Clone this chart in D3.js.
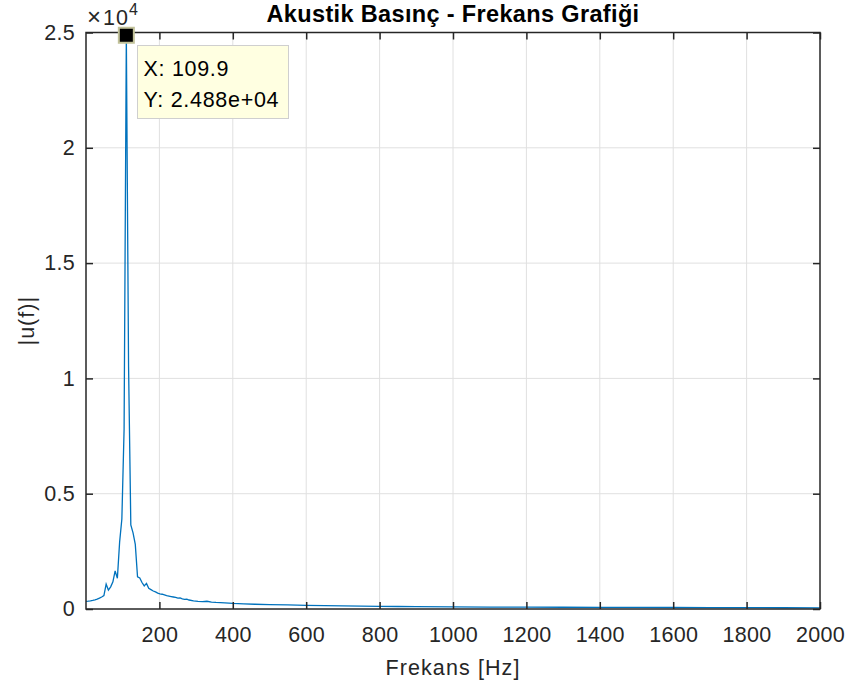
<!DOCTYPE html>
<html>
<head>
<meta charset="utf-8">
<script src="https://cdn.jsdelivr.net/npm/d3@7"></script>
<style>
  body { margin: 0; background: #fff; }
  text { font-family: "Liberation Sans", Arial, Helvetica, sans-serif; fill: #262626; }
</style>
</head>
<body>
<div id="container"></div>
<script>
/* CONSTANTS AND GLOBALS */
const width = 851,
  height = 689,
  margin = { top: 32.5, bottom: 80, left: 86, right: 31 };

/* DATA */
// frequency bins [Hz]
const freqs = [0, 6.1, 12.2, 18.3, 24.4, 30.5, 36.6, 42.7, 48.8, 54.9, 61.0, 67.2, 73.3, 79.4, 85.5,
  91.6, 97.7, 103.8, 109.9, 116.0, 122.1, 128.2, 134.3, 140.4, 146.5, 152.6, 158.7, 164.8, 170.9,
  177.0, 183.2, 189.3, 195.4, 201.5, 207.6, 213.7, 219.8, 225.9, 232.0, 238.1, 244.2, 250.3, 256.4,
  262.5, 268.6, 274.7, 280.8, 293.0, 305.2, 317.4, 329.6, 341.9, 354.1, 366.3, 378.5, 400, 430, 460,
  500, 550, 600, 650, 700, 750, 800, 850, 900, 1000, 1100, 1200, 1300, 1400, 1500, 1600, 1700,
  1800, 1900, 2000]
// |u(f)|
const amps = [330, 340, 355, 375, 400, 430, 470, 520, 580, 1080, 820, 960, 1180, 1650, 1330,
  2900, 3900, 7800, 24880, 10500, 3650, 3300, 2800, 1400, 1350, 1150, 1000, 1110, 900,
  840, 780, 740, 690, 660, 640, 610, 580, 560, 540, 520, 500, 470, 480,
  440, 420, 430, 390, 355, 330, 320, 335, 300, 285, 275, 262, 240, 220, 205,
  190, 175, 160, 148, 138, 128, 118, 108, 102, 92, 85, 80, 75, 72, 68, 64, 60,
  57, 54, 50]

const xTicks = [200, 400, 600, 800, 1000, 1200, 1400, 1600, 1800, 2000]
const yTicks = [0, 5000, 10000, 15000, 20000, 25000]
const tip = { x: 109.9, y: 24880 }

const data = freqs.map((f, i) => ({ f: f, a: amps[i] }))

/* SCALES */
const xScale = d3.scaleLinear()
  .domain([0, 2000])
  .range([margin.left, width - margin.right])

const yScale = d3.scaleLinear()
  .domain([0, 25000])
  .range([height - margin.bottom, margin.top])

/* HTML ELEMENTS */
const svg = d3.select("#container")
  .append("svg")
  .attr("width", width)
  .attr("height", height)
  .style("background-color", "#fff")

// grid
svg.append("g")
  .selectAll("line")
  .data(xTicks.slice(0, -1))
  .join("line")
  .attr("x1", d => xScale(d)).attr("x2", d => xScale(d))
  .attr("y1", margin.top).attr("y2", height - margin.bottom)
  .attr("stroke", "#e0e0e0")
svg.append("g")
  .selectAll("line")
  .data(yTicks.slice(1, -1))
  .join("line")
  .attr("x1", margin.left).attr("x2", width - margin.right)
  .attr("y1", d => yScale(d)).attr("y2", d => yScale(d))
  .attr("stroke", "#e0e0e0")

// line
const line = d3.line()
  .x(d => xScale(d.f))
  .y(d => yScale(d.a))

svg.append("path")
  .datum(data)
  .attr("d", line)
  .attr("fill", "none")
  .attr("stroke", "#0072BD")
  .attr("stroke-width", 1.3)

// axes
const fontSize = "21.5px"
const xAxis = svg.append("g")
  .attr("transform", `translate(0,${height - margin.bottom})`)
  .call(d3.axisBottom(xScale).tickValues(xTicks).tickSizeInner(-7).tickSizeOuter(0).tickPadding(18)
    .tickFormat(d3.format("d")))
const yAxis = svg.append("g")
  .attr("transform", `translate(${margin.left},0)`)
  .call(d3.axisLeft(yScale).tickValues(yTicks).tickSizeInner(-7).tickSizeOuter(0).tickPadding(11)
    .tickFormat(d => d / 1e4))
const xTop = svg.append("g")
  .attr("transform", `translate(0,${margin.top})`)
  .call(d3.axisTop(xScale).tickValues(xTicks).tickSizeInner(-7).tickSizeOuter(0).tickFormat(""))
const yRight = svg.append("g")
  .attr("transform", `translate(${width - margin.right},0)`)
  .call(d3.axisRight(yScale).tickValues(yTicks).tickSizeInner(-7).tickSizeOuter(0).tickFormat(""))

;[xAxis, yAxis, xTop, yRight].forEach(g => {
  g.select(".domain").remove()
  g.selectAll(".tick line").attr("stroke", "#262626").attr("stroke-width", 1.5)
  g.selectAll(".tick text").attr("font-size", fontSize).attr("fill", "#262626")
    .attr("letter-spacing", "0.3px")
    .style("font-family", "'Liberation Sans', Arial, sans-serif")
})

// box
svg.append("rect")
  .attr("x", margin.left)
  .attr("y", margin.top)
  .attr("width", width - margin.left - margin.right)
  .attr("height", height - margin.top - margin.bottom)
  .attr("fill", "none")
  .attr("stroke", "#262626")
  .attr("stroke-width", 1.5)

// exponent
const expo = svg.append("text")
  .attr("x", margin.left + 1)
  .attr("y", 25)
  .attr("font-size", fontSize)
expo.append("tspan").attr("font-size", "24px").text("×")
expo.append("tspan").attr("dx", 2).attr("letter-spacing", "1px").text("10")
expo.append("tspan").attr("font-size", "16px").attr("dy", -10).text("4")

// labels
svg.append("text")
  .attr("x", (margin.left + width - margin.right) / 2)
  .attr("y", 21.5)
  .attr("text-anchor", "middle")
  .attr("font-size", "23.5px")
  .attr("font-weight", "bold")
  .attr("letter-spacing", "0.35px")
  .style("fill", "#000")
  .text("Akustik Basınç - Frekans Grafiği")

svg.append("text")
  .attr("x", (margin.left + width - margin.right) / 2)
  .attr("y", 675)
  .attr("text-anchor", "middle")
  .attr("font-size", fontSize)
  .attr("letter-spacing", "1.1px")
  .text("Frekans [Hz]")

svg.append("text")
  .attr("transform", `translate(34,${(margin.top + height - margin.bottom) / 2}) rotate(-90)`)
  .attr("text-anchor", "middle")
  .attr("font-size", fontSize)
  .attr("letter-spacing", "1px")
  .text("|u(f)|")

// data tip
svg.append("rect")
  .attr("x", 137.5).attr("y", 45.5)
  .attr("width", 151).attr("height", 73)
  .attr("fill", "#ffffe1")
  .attr("stroke", "#cfcfcf")
svg.append("text")
  .attr("x", 143.5).attr("y", 76)
  .attr("font-size", fontSize)
  .attr("letter-spacing", "0.7px")
  .style("fill", "#000")
  .text("X: " + tip.x)
svg.append("text")
  .attr("x", 143.5).attr("y", 106.5)
  .attr("font-size", fontSize)
  .attr("letter-spacing", "0.7px")
  .style("fill", "#000")
  .text("Y: " + d3.format(".3e")(tip.y).replace("e+4", "e+04"))

svg.append("rect")
  .attr("x", xScale(tip.x) - 7.5)
  .attr("y", yScale(tip.y) - 7.5)
  .attr("width", 15).attr("height", 15)
  .attr("fill", "#000")
  .attr("stroke", "#c2c29a")
  .attr("stroke-width", 2)
</script>
</body>
</html>
